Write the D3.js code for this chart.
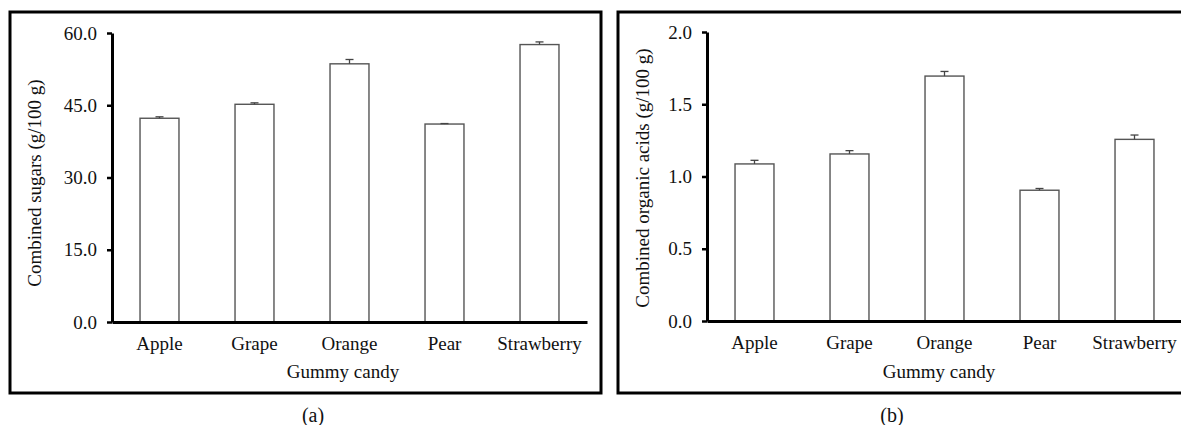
<!DOCTYPE html>
<html>
<head>
<meta charset="utf-8">
<script src="https://cdn.jsdelivr.net/npm/d3@7"></script>
<style>
  body { margin: 0; background: #fff; }
  svg { display: block; font-family: "Liberation Serif", "Times New Roman", serif; }
</style>
</head>
<body>
<div id="chart"></div>
<script>
const candies = ["Apple", "Grape", "Orange", "Pear", "Strawberry"];

// panel (a): combined sugars
const sugars = [42.3, 45.2, 53.6, 41.1, 57.6];
const sugarsErr = [0.3, 0.3, 0.9, 0.1, 0.55];
const sugarsTicks = [0, 15, 30, 45, 60];

// panel (b): combined organic acids
const acids = [1.087, 1.156, 1.695, 0.905, 1.257];
const acidsErr = [0.025, 0.023, 0.032, 0.012, 0.03];
const acidsTicks = [0, 0.5, 1.0, 1.5, 2.0];

const width = 1181, height = 425;

const svg = d3.select("#chart").append("svg")
    .attr("width", width)
    .attr("height", height);

function drawPanel(opts) {
  const g = svg.append("g");

  // frame around the panel
  g.append("rect")
      .attr("x", opts.frame[0])
      .attr("y", opts.frame[1])
      .attr("width", opts.frame[2])
      .attr("height", opts.frame[3])
      .attr("fill", "none")
      .attr("stroke", "#000")
      .attr("stroke-width", 3);

  const x = d3.scaleBand()
      .domain(candies)
      .range([opts.x0, opts.x0 + 475])
      .paddingInner(0.59)
      .paddingOuter(0.295);

  const y = d3.scaleLinear()
      .domain(opts.yDomain)
      .range([opts.yBottom, opts.yTop]);

  const rows = candies.map((c, i) => ({name: c, v: opts.values[i], e: opts.errors[i]}));

  // bars
  g.selectAll(".bar")
    .data(rows)
    .join("rect")
      .attr("class", "bar")
      .attr("x", d => x(d.name))
      .attr("y", d => y(d.v))
      .attr("width", x.bandwidth())
      .attr("height", d => y(0) - y(d.v))
      .attr("fill", "#fff")
      .attr("stroke", "#555")
      .attr("stroke-width", 1.4);

  // error bars (upper half only)
  const eb = g.selectAll(".err")
    .data(rows)
    .join("g")
      .attr("class", "err")
      .attr("stroke", "#444")
      .attr("stroke-width", 1.3);
  eb.append("line")
      .attr("x1", d => x(d.name) + x.bandwidth() / 2)
      .attr("x2", d => x(d.name) + x.bandwidth() / 2)
      .attr("y1", d => y(d.v))
      .attr("y2", d => y(d.v + d.e));
  eb.append("line")
      .attr("x1", d => x(d.name) + x.bandwidth() / 2 - 4)
      .attr("x2", d => x(d.name) + x.bandwidth() / 2 + 4)
      .attr("y1", d => y(d.v + d.e))
      .attr("y2", d => y(d.v + d.e));

  // y axis
  g.append("g")
      .attr("transform", `translate(${opts.x0},0)`)
      .call(d3.axisLeft(y).tickValues(opts.ticks).tickFormat(d3.format(".1f"))
          .tickSize(5).tickSizeOuter(0).tickPadding(10))
      .call(a => a.select(".domain").attr("stroke-width", 3))
      .call(a => a.selectAll(".tick line").attr("stroke-width", 2.5))
      .call(a => a.selectAll("text").attr("font-size", 19).attr("fill", "#111")
          .attr("font-family", "Liberation Serif"));

  // x axis
  g.append("g")
      .attr("transform", `translate(0,${opts.yBottom})`)
      .call(d3.axisBottom(x).tickSize(0).tickPadding(15))
      .call(a => a.select(".domain").attr("stroke-width", 3))
      .call(a => a.selectAll("text").attr("font-size", 19).attr("fill", "#111")
          .attr("font-family", "Liberation Serif"));

  // axis titles
  g.append("text")
      .attr("transform", `translate(${opts.yLabelX},${opts.yLabelY}) rotate(-90)`)
      .attr("text-anchor", "middle")
      .attr("font-size", 19)
      .attr("fill", "#111")
      .text(opts.yLabel);

  g.append("text")
      .attr("x", opts.xLabelX)
      .attr("y", 378)
      .attr("text-anchor", "middle")
      .attr("font-size", 19)
      .attr("fill", "#111")
      .text("Gummy candy");

  g.append("text")
      .attr("x", opts.tagX)
      .attr("y", 422)
      .attr("text-anchor", "middle")
      .attr("font-size", 20)
      .attr("fill", "#111")
      .text(opts.tag);
}

drawPanel({
  frame: [10, 12, 591, 381],
  x0: 112, yTop: 33, yBottom: 322,
  yDomain: [0, 60], ticks: sugarsTicks,
  values: sugars, errors: sugarsErr,
  yLabel: "Combined sugars (g/100 g)", yLabelX: 41, yLabelY: 183,
  xLabelX: 343, tag: "(a)", tagX: 313
});

drawPanel({
  frame: [618, 12, 600, 381],
  x0: 707, yTop: 32, yBottom: 321,
  yDomain: [0, 2], ticks: acidsTicks,
  values: acids, errors: acidsErr,
  yLabel: "Combined organic acids (g/100 g)", yLabelX: 649, yLabelY: 178,
  xLabelX: 939, tag: "(b)", tagX: 892
});
</script>
</body>
</html>
